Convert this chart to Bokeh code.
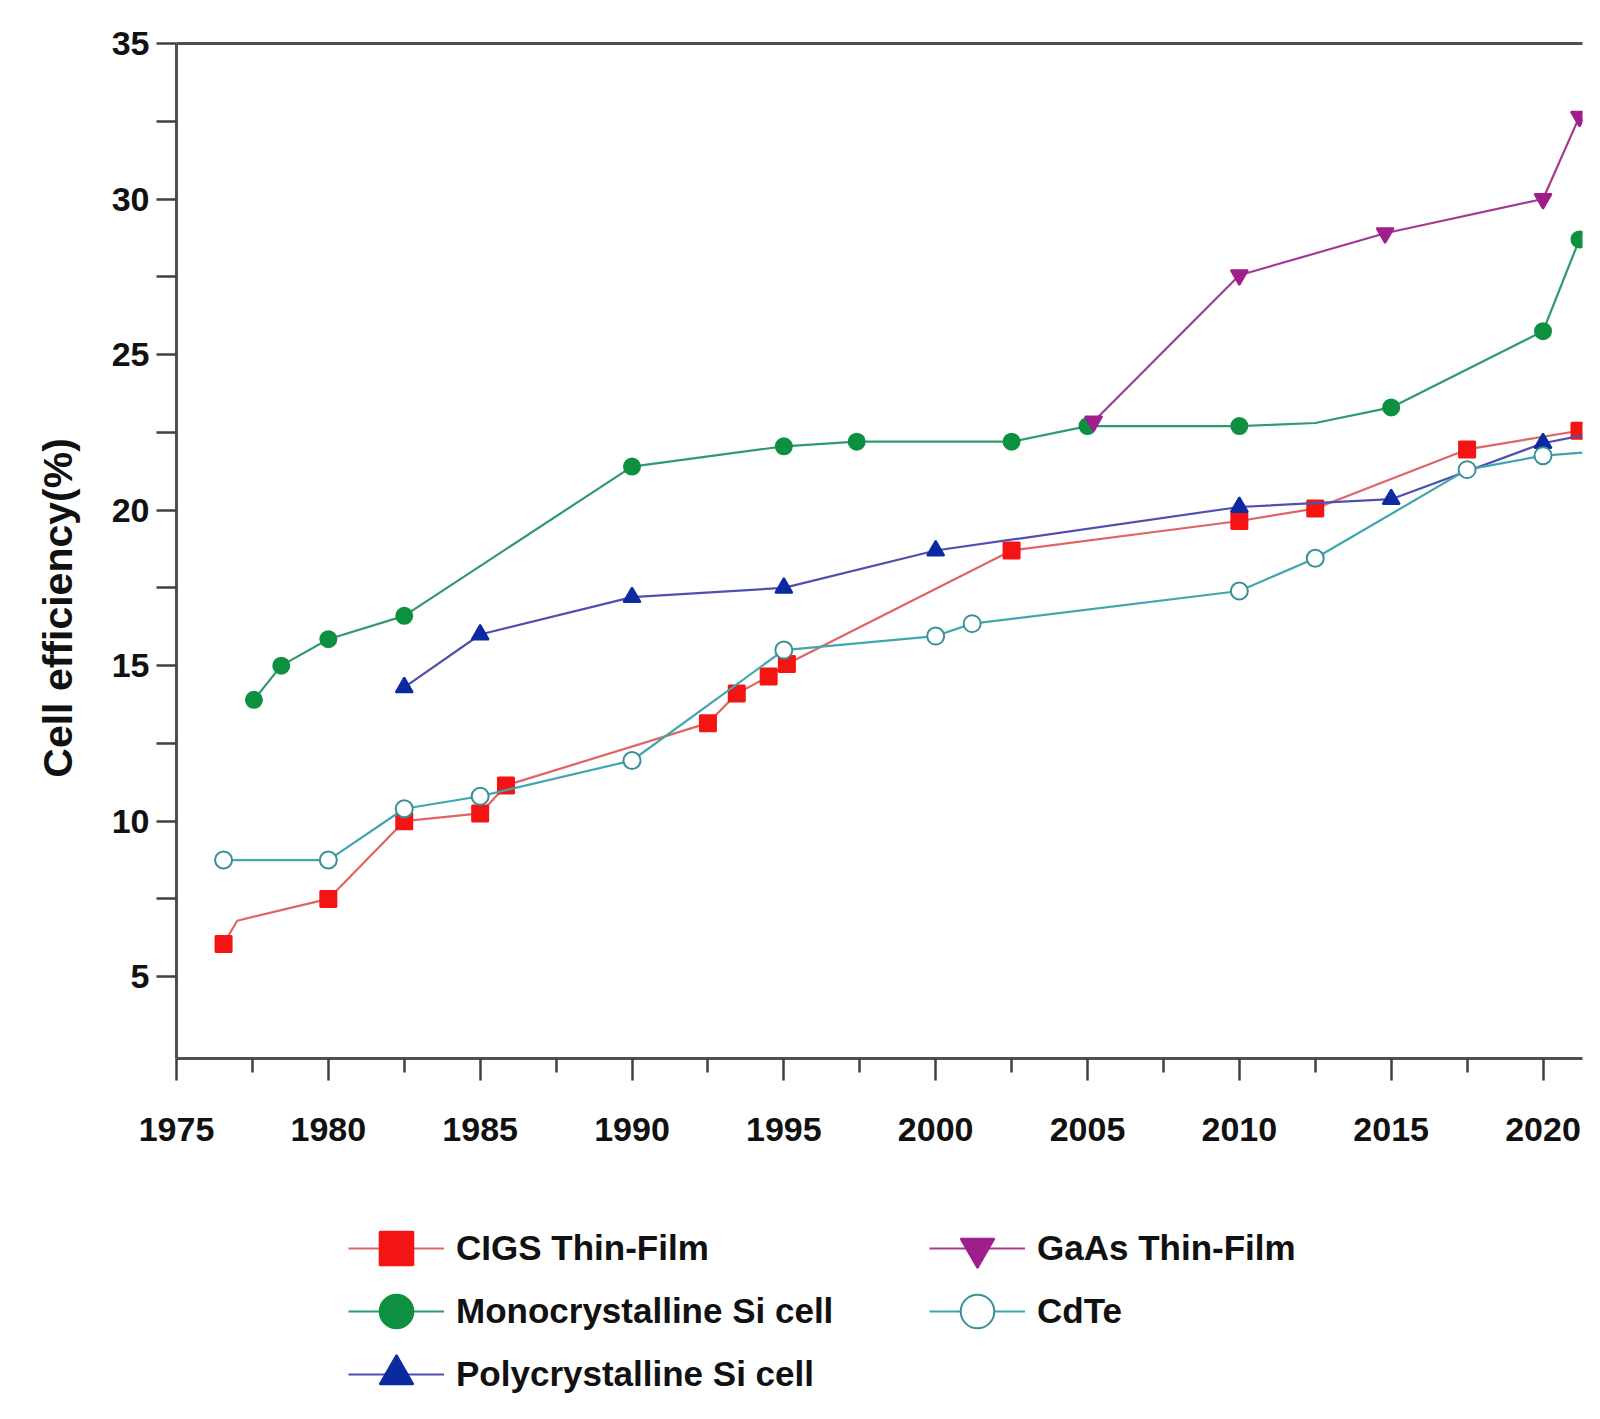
from bokeh.plotting import figure
from bokeh.layouts import column
from bokeh.models import FixedTicker, LinearAxis, Legend, LegendItem, Range1d
from bokeh.embed import file_html
from bokeh.resources import INLINE

# record cell efficiencies (%)
cigs_years = [1976.55, 1980.0, 1982.5, 1985.0, 1985.85, 1992.5, 1993.45, 1994.5, 1995.1, 2002.5, 2010.0, 2012.5, 2017.5, 2021.2]
cigs_eff = [6.05, 7.5, 10.0, 10.25, 11.15, 13.15, 14.1, 14.65, 15.05, 18.7, 19.65, 20.05, 21.95, 22.55]

mono_years = [1977.55, 1978.45, 1980.0, 1982.5, 1990.0, 1995.0, 1997.4, 2002.5, 2005.0, 2010.0, 2015.0, 2020.0, 2021.2]
mono_eff = [13.9, 15.0, 15.85, 16.6, 21.4, 22.05, 22.2, 22.2, 22.7, 22.7, 23.3, 25.75, 28.7]

poly_years = [1982.5, 1985.0, 1990.0, 1995.0, 2000.0, 2010.0, 2015.0, 2020.0]
poly_eff = [14.3, 16.0, 17.2, 17.5, 18.7, 20.1, 20.35, 22.15]

gaas_years = [2005.2, 2010.0, 2014.8, 2020.0, 2021.2]
gaas_eff = [22.85, 27.55, 28.9, 30.0, 32.65]

cdte_years = [1976.55, 1980.0, 1982.5, 1985.0, 1990.0, 1995.0, 2000.0, 2001.2, 2010.0, 2012.5, 2017.5, 2020.0]
cdte_eff = [8.75, 8.75, 10.4, 10.8, 11.95, 15.5, 15.95, 16.35, 17.4, 18.45, 21.3, 21.75]

# vertices of the drawn lines that carry no marker
cigs_bend = ([1977.0], [6.8])
mono_bend = ([2012.5], [22.8])
poly_end = ([2021.3], [22.4])
cdte_end = ([2021.3], [21.85])

x_ticks = [1975, 1980, 1985, 1990, 1995, 2000, 2005, 2010, 2015, 2020]
x_minor = [1977.5, 1982.5, 1987.5, 1992.5, 1997.5, 2002.5, 2007.5, 2012.5, 2017.5]
y_ticks = [5, 10, 15, 20, 25, 30, 35]
y_minor = [7.5, 12.5, 17.5, 22.5, 27.5, 32.5]


def merge(xs, ys, extra):
    pts = sorted(list(zip(xs, ys)) + list(zip(*extra)))
    return [a for a, b in pts], [b for a, b in pts]


FONT = "Liberation Sans"

p = figure(width=1592, height=1165, output_backend="svg", toolbar_location=None,
           x_range=Range1d(1975, 2021.3), y_range=Range1d(2.37, 35),
           min_border_left=176, min_border_right=10, min_border_top=43,
           min_border_bottom=107, outline_line_color=None)
p.xgrid.visible = False
p.ygrid.visible = False

for ax in (p.xaxis[0], p.yaxis[0]):
    ax.axis_line_color = "#505050"
    ax.axis_line_width = 3
    ax.major_tick_line_color = "#404040"
    ax.minor_tick_line_color = "#404040"
    ax.major_tick_line_width = 2.5
    ax.minor_tick_line_width = 2.5
    ax.major_tick_in = 0
    ax.minor_tick_in = 0
    ax.major_label_text_font = FONT
    ax.major_label_text_font_style = "bold"
    ax.major_label_text_font_size = "34px"
    ax.major_label_text_color = "#111111"

p.xaxis.ticker = FixedTicker(ticks=x_ticks, minor_ticks=x_minor)
p.xaxis.major_tick_out = 22
p.xaxis.minor_tick_out = 14
p.xaxis.major_label_standoff = 37

p.yaxis.ticker = FixedTicker(ticks=y_ticks, minor_ticks=y_minor)
p.yaxis.major_tick_out = 20
p.yaxis.minor_tick_out = 20
p.yaxis.major_label_standoff = 7
p.yaxis.axis_label = "Cell efficiency(%)" + "\u00a0" * 10
p.yaxis.axis_label_text_font = FONT
p.yaxis.axis_label_text_font_style = "bold"
p.yaxis.axis_label_text_font_size = "41px"
p.yaxis.axis_label_text_color = "#111111"
p.yaxis.axis_label_standoff = 28

# top border line only (no right border in the original)
top = LinearAxis(ticker=FixedTicker(ticks=[]), axis_line_color="#505050", axis_line_width=3,
                 major_label_text_font_size="0px")
p.add_layout(top, "above")

styles = {
    "CIGS Thin-Film": ("#e06464", "square", "#f41414", "#f41414", 16),
    "Monocrystalline Si cell": ("#2f9a6c", "circle", "#0d9040", "#0d9040", 16),
    "Polycrystalline Si cell": ("#4f4fb0", "triangle", "#0c2aa0", "#0c2aa0", 17),
    "GaAs Thin-Film": ("#a23a92", "inverted_triangle", "#a01e8c", "#a01e8c", 17),
    "CdTe": ("#3fa6ae", "circle", "#3a9098", "white", 17),
}
data = {
    "CIGS Thin-Film": (merge(cigs_years, cigs_eff, cigs_bend), cigs_years, cigs_eff),
    "Monocrystalline Si cell": (merge(mono_years, mono_eff, mono_bend), mono_years, mono_eff),
    "Polycrystalline Si cell": (merge(poly_years, poly_eff, poly_end), poly_years, poly_eff),
    "GaAs Thin-Film": ((gaas_years, gaas_eff), gaas_years, gaas_eff),
    "CdTe": (merge(cdte_years, cdte_eff, cdte_end), cdte_years, cdte_eff),
}

# legend strip under the chart (its own canvas so the big swatches are not clipped);
# its ranges hold none of the data, so its renderers only feed the legend swatches
q = figure(width=1592, height=251, output_backend="svg", toolbar_location=None,
           x_range=Range1d(0, 1), y_range=Range1d(0, 1), x_axis_type=None, y_axis_type=None,
           min_border=0, outline_line_color=None)
q.xgrid.visible = False
q.ygrid.visible = False

items = {}
for name, ((lx, ly), mx, my) in data.items():
    lcol, marker, mline, mfill, size = styles[name]
    for fig in (p, q):
        r_line = fig.line(lx, ly, line_color=lcol, line_width=2.2)
        r_mark = fig.scatter(mx, my, marker=marker, size=size, line_color=mline,
                             fill_color=mfill, line_width=2)
    items[name] = LegendItem(label=name, renderers=[r_line, r_mark])

legend_rows = [["CIGS Thin-Film", "GaAs Thin-Film"],
               ["Monocrystalline Si cell", "CdTe"],
               ["Polycrystalline Si cell"]]
row_offset = [126, 63, 0]
for names, dy in zip(legend_rows, row_offset):
    lg = Legend(items=[items[n] for n in names], location=(172, dy), orientation="horizontal",
                glyph_width=96, glyph_height=84, label_standoff=12, label_width=473,
                spacing=0, padding=0, margin=0,
                border_line_color=None, background_fill_alpha=0,
                label_text_font=FONT, label_text_font_style="bold",
                label_text_font_size="35px", label_text_color="#111111")
    q.add_layout(lg, "center")

open("out.html", "w").write(file_html(column(p, q), INLINE))
